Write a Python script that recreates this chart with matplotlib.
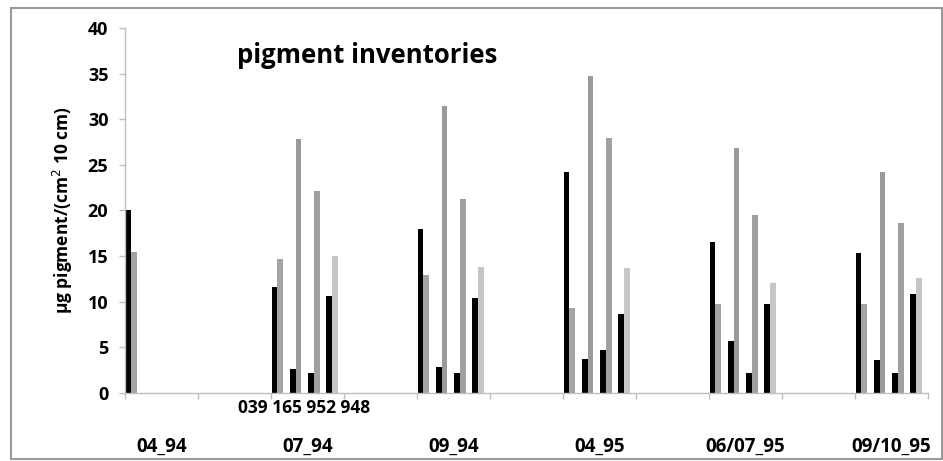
import numpy as np
import matplotlib
matplotlib.use("Agg")
import matplotlib.pyplot as plt
from matplotlib.patches import Rectangle
from matplotlib.transforms import blended_transform_factory

plt.rcParams['font.family'] = ['Open Sans', 'DejaVu Sans']

nan = np.nan

# sampling dates and stations
dates = ['04_94', '07_94', '09_94', '04_95', '06/07_95', '09/10_95']
date_pos = [0, 2, 4, 6, 8, 10]
stations = ['039', '165', '952', '948']

# inventories per station (black / grey series)
black_039 = [20.0, 11.6, 18.0, 24.2, 16.5, 15.3]
grey_039 = [15.4, 14.7, 12.9, 9.3, 9.7, 9.7]
black_165 = [nan, 2.6, 2.8, 3.7, 5.7, 3.6]
grey_165 = [nan, 27.8, 31.4, 34.7, 26.8, 24.2]
black_952 = [nan, 2.2, 2.2, 4.7, 2.2, 2.2]
grey_952 = [nan, 22.1, 21.3, 27.9, 19.5, 18.6]
black_948 = [nan, 10.6, 10.4, 8.7, 9.8, 10.8]
grey_948 = [nan, 15.0, 13.8, 13.7, 12.1, 12.6]

blacks = [black_039, black_165, black_952, black_948]
greys = [grey_039, grey_165, grey_952, grey_948]
grey_cols = ['#a4a4a4', '#9a9a9a', '#a0a0a0', '#c6c6c6']

fig = plt.figure(figsize=(9.43, 4.61), dpi=100)
ax = fig.add_axes([0.1326, 0.1475, 0.8515, 0.7918])

# outer frame
fig.patches.append(Rectangle((11 / 943, 2 / 461), 931 / 943, 451 / 461,
                             transform=fig.transFigure, fill=False,
                             edgecolor='#9a9a9a', linewidth=1.5))

w = 0.079
pos = np.array(date_pos, dtype=float)
for j in range(4):
    x0 = pos + 0.25 * j + 0.008
    ax.bar(x0, blacks[j], width=w, align='edge', color='black')
    ax.bar(x0 + w, greys[j], width=w, align='edge', color=grey_cols[j])

ax.set_xlim(0, 11)
ax.set_ylim(0, 40)
ax.set_xticks(np.arange(0, 12))
ax.set_xticklabels([])
ax.set_yticks(np.arange(0, 41, 5))
ax.tick_params(axis='both', direction='out', length=4, color='#bfbfbf', width=1)
ax.tick_params(axis='y', labelsize=13, pad=8)
for lab in ax.get_yticklabels():
    lab.set_fontweight('bold')

for s in ['top', 'right']:
    ax.spines[s].set_visible(False)
for s in ['left', 'bottom']:
    ax.spines[s].set_color('#bfbfbf')
    ax.spines[s].set_linewidth(1)

ax.set_ylabel('µg pigment/(cm$^{2}$ 10 cm)', fontsize=12.5, fontweight='bold')
ax.yaxis.set_label_coords(-0.062, 0.5)

trans = blended_transform_factory(ax.transData, ax.transAxes)
for d, p in zip(dates, date_pos):
    ax.text(p + 0.5, -0.148, d, transform=trans, ha='center', va='center',
            fontsize=13.5, fontweight='bold')
ax.text(2.45, -0.041, ' '.join(stations), transform=trans, ha='center',
        va='center', fontsize=12.5, fontweight='bold')

ax.text(1.53, 37.0, 'pigment inventories', ha='left', va='center',
        fontsize=18.5, fontweight='bold')

fig.savefig('out.png', dpi=100)
